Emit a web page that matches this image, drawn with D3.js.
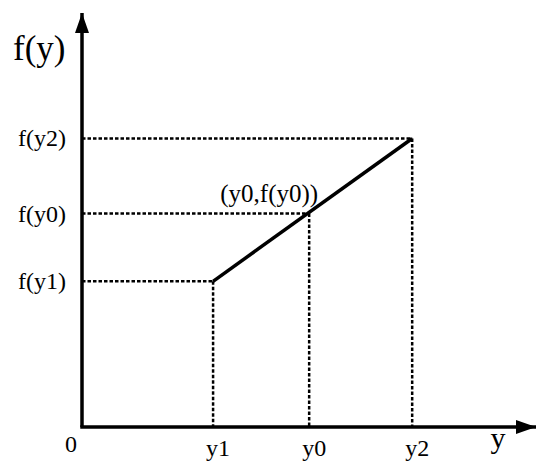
<!DOCTYPE html>
<html>
<head>
<meta charset="utf-8">
<script src="https://cdn.jsdelivr.net/npm/d3@7"></script>
<style>
  body { margin: 0; background: #fff; }
  text { font-family: "Liberation Serif", "Times New Roman", serif; fill: #000; }
</style>
</head>
<body>
<div id="chart"></div>
<script>
(function(d3) {
    'use strict';

    // points on the segment: y values and f(y) values
    var names = ['y1', 'y0', 'y2'];
    var xValues = [3.97, 6.88, 10];
    var fValues = [5.05, 7.4, 10];
    var fLabels = ['f(y1)', 'f(y0)', 'f(y2)'];
    var pointLabel = '(y0,f(y0))';

    var width = 550,
        height = 476;

    var x = d3.scaleLinear().domain([0, 13.75]).range([82, 536]);
    var y = d3.scaleLinear().domain([0, 14.35]).range([427, 13]);

    var svg = d3.select('#chart').append('svg')
        .attr('width', width)
        .attr('height', height);

    var defs = svg.append('defs');
    defs.append('marker')
        .attr('id', 'arrow')
        .attr('viewBox', '0 0 20 14')
        .attr('refX', 20)
        .attr('refY', 7)
        .attr('markerWidth', 20)
        .attr('markerHeight', 14)
        .attr('markerUnits', 'userSpaceOnUse')
        .attr('orient', 'auto')
        .append('path')
        .attr('d', 'M0,0L20,7L0,14Z')
        .attr('fill', '#000');

    var points = names.map(function(n, i) {
        return { name: n, x: xValues[i], f: fValues[i], label: fLabels[i] };
    });

    // dotted guides
    var guides = svg.append('g')
        .attr('stroke', '#000')
        .attr('stroke-width', 2.5)
        .attr('stroke-dasharray', '3.5,2')
        .attr('fill', 'none');

    guides.selectAll('.h')
        .data(points)
        .enter().append('line')
        .attr('class', 'h')
        .attr('x1', x(0))
        .attr('x2', function(d) { return x(d.x); })
        .attr('y1', function(d) { return y(d.f); })
        .attr('y2', function(d) { return y(d.f); });

    guides.selectAll('.v')
        .data(points)
        .enter().append('line')
        .attr('class', 'v')
        .attr('x1', function(d) { return x(d.x); })
        .attr('x2', function(d) { return x(d.x); })
        .attr('y1', function(d) { return y(d.f); })
        .attr('y2', y(0));

    // axes
    svg.append('line')
        .attr('x1', x(0)).attr('y1', y(0))
        .attr('x2', x(0)).attr('y2', y(14.35))
        .attr('stroke', '#000')
        .attr('stroke-width', 3.5)
        .attr('marker-end', 'url(#arrow)');

    svg.append('line')
        .attr('x1', x(0) - 1.75).attr('y1', y(0))
        .attr('x2', x(13.75)).attr('y2', y(0))
        .attr('stroke', '#000')
        .attr('stroke-width', 3.5)
        .attr('marker-end', 'url(#arrow)');

    // the segment
    var seg = [points[0], points[2]];
    svg.append('path')
        .datum(seg)
        .attr('d', d3.line()
            .x(function(d) { return x(d.x); })
            .y(function(d) { return y(d.f); }))
        .attr('stroke', '#000')
        .attr('stroke-width', 3.5)
        .attr('fill', 'none');

    // labels
    svg.selectAll('.flabel')
        .data(points)
        .enter().append('text')
        .attr('class', 'flabel')
        .attr('x', 66)
        .attr('y', function(d) { return y(d.f) + 8; })
        .attr('text-anchor', 'end')
        .style('font-size', '24px')
        .text(function(d) { return d.label; });

    svg.selectAll('.xlabel')
        .data(points)
        .enter().append('text')
        .attr('class', 'xlabel')
        .attr('x', function(d) { return x(d.x) + 5; })
        .attr('y', 456)
        .attr('text-anchor', 'middle')
        .style('font-size', '24px')
        .text(function(d) { return d.name; });

    svg.append('text')
        .attr('x', 71)
        .attr('y', 452)
        .attr('text-anchor', 'middle')
        .style('font-size', '24px')
        .text('0');

    svg.append('text')
        .attr('x', 13)
        .attr('y', 60)
        .style('font-size', '35px')
        .text('f(y)');

    svg.append('text')
        .attr('x', 498)
        .attr('y', 448)
        .attr('text-anchor', 'middle')
        .style('font-size', '30px')
        .text('y');

    svg.append('text')
        .attr('x', x(points[1].x) + 9)
        .attr('y', y(points[1].f) - 12)
        .attr('text-anchor', 'end')
        .style('font-size', '25px')
        .text(pointLabel);

})(window.d3);
</script>
</body>
</html>
